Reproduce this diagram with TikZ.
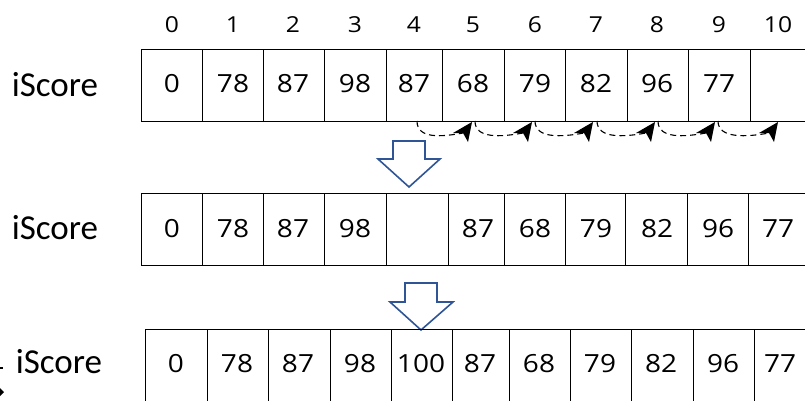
\documentclass[tikz,border=0pt]{standalone}
\usepackage{fontspec}
\usepackage{graphicx}
\setmainfont{Carlito}
\newfontfamily\figfont{Open Sans}
\usetikzlibrary{arrows.meta,calc}

\definecolor{officeblue}{HTML}{2F5597}

% wide figures used for cell values and indices
\newcommand\widefig[1]{\scalebox{1.12}[1]{#1}}

\tikzset{
  cellbox/.style={draw=black, line width=1.3pt, inner sep=0pt, anchor=north west},
  cellval/.style={font=\figfont\fontsize{25}{25}\selectfont, inner sep=0pt},
  idxval/.style={font=\figfont\fontsize{22}{22}\selectfont, inner sep=0pt},
  rowname/.style={font=\fontsize{35}{35}\selectfont, inner sep=0pt},
  shiftarrow/.style={dash pattern=on 6pt off 4pt, line width=1.1pt},
  shifttip/.style={fill=black},
  downarrow/.style={draw=officeblue, fill=white, line width=1.6pt, line join=miter},
}

\begin{document}
\begin{tikzpicture}[x=1pt,y=-1pt]
\useasboundingbox (0,0) rectangle (805,400);
\clip (0,0) rectangle (805,400);

% ---- row 1: before shifting ----
\foreach \l/\r/\c/\v [count=\i from 0] in
  {141/202/172/0, 202/263/233/78, 263/324/293/87, 324/386/355/98,
   386/442/414/87, 442/504/473/68, 504/565/535/79, 565/627/596/82,
   627/688/657/96, 688/750/719/77, 750/830/778/{}} {
  \node[cellbox, minimum width={\r-\l}, minimum height=72] (a\i) at (\l,49) {};
  \node[cellval] (av\i) at (\c,84) {\widefig{\v}};
}
\node[rowname] (name1) at (55,85) {iScore};

% indices above row 1
\foreach \x [count=\i from 0] in {172,233,293,355,414,473,535,596,657,719,778}
  \node[idxval] (idx\i) at (\x,25) {\widefig{\i}};

% shifting arrows under row 1: dashed curve plus a solid head
\foreach \s/\e [count=\i from 4] in
  {417/472, 475/532, 535/593, 597/655, 658/715, 718/778} {
  \coordinate (p\i) at (\s,121);
  \coordinate (q\i) at (\e,122);
  \coordinate (r\i) at (\e-9,133);
  \draw[shiftarrow] (p\i) .. controls +(0,18) and +(-22,4) .. (r\i);
  \fill[shifttip] (q\i) -- ($(q\i)+(-19,11)$) -- ($(q\i)+(-9,11)$)
    -- ($(q\i)+(-4,20)$) -- cycle;
}

% ---- down arrow 1 ----
\draw[downarrow] (393,141) -- (425,141) -- (425,159) -- (440,159)
  -- (409,187) -- (378,159) -- (393,159) -- cycle;

% ---- row 2: gap opened ----
\foreach \l/\r/\c/\v [count=\i from 0] in
  {141/202/172/0, 202/263/233/78, 263/324/293/87, 324/386/355/98,
   386/448/417/{}, 448/504/478/87, 504/565/535/68, 565/625/596/79,
   625/687/657/82, 687/748/718/96, 748/830/778/77} {
  \node[cellbox, minimum width={\r-\l}, minimum height=72] (b\i) at (\l,193) {};
  \node[cellval] (bv\i) at (\c,229) {\widefig{\v}};
}
\node[rowname] (name2) at (55,228) {iScore};

% ---- down arrow 2 ----
\draw[downarrow] (405,283) -- (437,283) -- (437,302) -- (453,302)
  -- (421,330) -- (390,302) -- (405,302) -- cycle;

% ---- row 3: value inserted ----
\foreach \l/\r/\c/\v [count=\i from 0] in
  {145/207/176/0, 207/268/237/78, 268/330/298/87, 330/391/360/98,
   391/452/421/100, 452/509/480/87, 509/570/539/68, 570/631/600/79,
   631/693/661/82, 693/754/723/96, 754/830/780/77} {
  \node[cellbox, minimum width={\r-\l}, minimum height=90] (c\i) at (\l,329) {};
  \node[cellval] (cv\i) at (\c,364) {\widefig{\v}};
}
\node[rowname] (name3) at (59,362) {iScore};

% small fragments at the left edge
\fill (0,366.5) rectangle (3,368.5);
\fill (0,388) -- (4,392) -- (0,396) -- cycle;
\end{tikzpicture}
\end{document}
